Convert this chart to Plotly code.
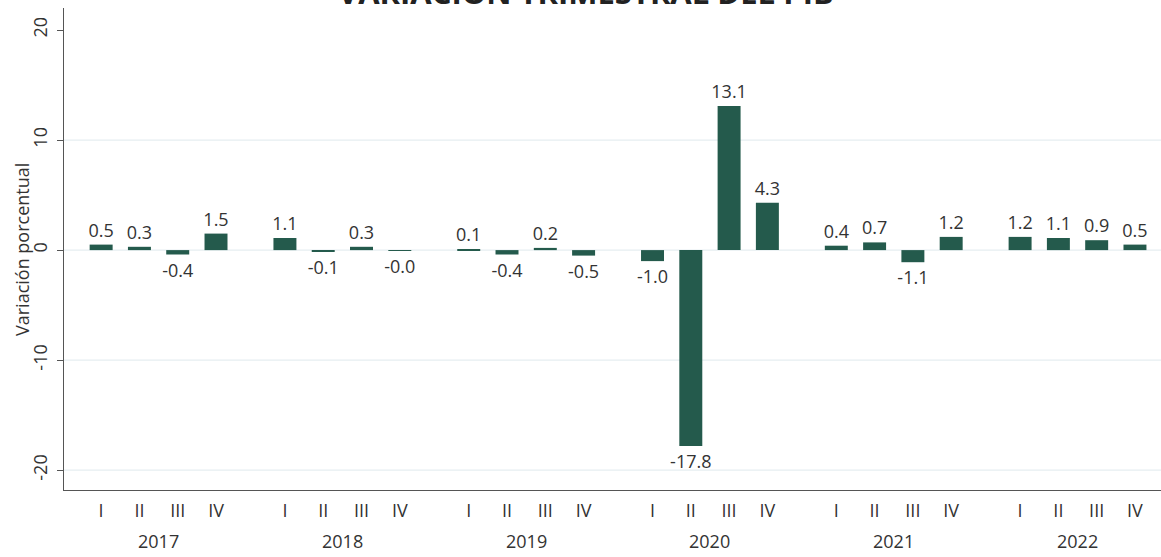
import plotly.graph_objects as go

years = ["2017", "2018", "2019", "2020", "2021", "2022"]
quarters = ["I", "II", "III", "IV"]
values = [
    0.5, 0.3, -0.4, 1.5,      # 2017
    1.1, -0.1, 0.3, -0.04,    # 2018
    0.1, -0.4, 0.2, -0.5,     # 2019
    -1.0, -17.8, 13.1, 4.3,   # 2020
    0.4, 0.7, -1.1, 1.2,      # 2021
    1.2, 1.1, 0.9, 0.5,       # 2022
]
y_ticks = [-20, -10, 0, 10, 20]
grid_values = [-20, -10, 0, 10]
title_text = "VARIACIÓN TRIMESTRAL DEL PIB"
y_title = "Variación porcentual"

GROUP_STEP = 4.8
FONT = "Open Sans"
FS = 18
BAR_COLOR = "#245a4c"
TEXT_COLOR = "#333333"
GRID_COLOR = "#e6eef1"

xs, qlabels = [], []
for yi, yr in enumerate(years):
    for qi, q in enumerate(quarters):
        xs.append(yi * GROUP_STEP + qi)
        qlabels.append(q)
labels = [f"{v:.1f}" for v in values]

fig = go.Figure()
for g in grid_values:
    fig.add_hline(y=g, line=dict(color=GRID_COLOR, width=1.2), layer="below")

fig.add_trace(go.Bar(
    x=xs, y=values, text=labels, textposition="outside",
    constraintext="none", cliponaxis=False,
    textfont=dict(family=FONT, size=FS, color=TEXT_COLOR),
    marker=dict(color=BAR_COLOR, line=dict(width=0)),
    width=0.6, hoverinfo="x+y",
))

x0 = -0.97
x1 = (len(years) - 1) * GROUP_STEP + 3 + 0.68
fig.update_layout(
    width=1161, height=557,
    margin=dict(l=64, r=0, t=8, b=67, autoexpand=False),
    plot_bgcolor="white", paper_bgcolor="white",
    showlegend=False,
    font=dict(family=FONT, size=FS, color=TEXT_COLOR),
    xaxis=dict(
        range=[x0, x1], tickmode="array", tickvals=xs, ticktext=qlabels,
        showgrid=False, zeroline=False, showline=True, linecolor="#555555",
        linewidth=1.3, ticks="", tickfont=dict(size=FS, color=TEXT_COLOR),
        automargin=False, ticklabelstandoff=4,
    ),
    yaxis=dict(
        range=[-21.8, 22.0], tickvals=y_ticks,
        ticktext=[str(t) for t in y_ticks], tickangle=-90,
        showgrid=False, zeroline=False,
        showline=True, linecolor="#555555", linewidth=1.3,
        ticks="outside", ticklen=6, tickcolor="#555555",
        tickfont=dict(size=FS, color=TEXT_COLOR), automargin=False,
        ticklabelstandoff=3,
    ),
)

fig.add_annotation(
    x=-0.0383, y=0.5, xref="paper", yref="paper", text=y_title,
    textangle=-90, showarrow=False, xanchor="center", yanchor="middle",
    font=dict(family=FONT, size=FS, color=TEXT_COLOR),
)

for yi, yr in enumerate(years):
    fig.add_annotation(
        x=yi * GROUP_STEP + 1.5, y=-0.106, xref="x", yref="paper",
        text=yr, showarrow=False, yanchor="middle",
        font=dict(family=FONT, size=FS, color=TEXT_COLOR),
    )

fig.add_annotation(
    x=0.476, y=1.034, xref="paper", yref="paper", text=f"<b>{title_text}</b>",
    showarrow=False, yanchor="middle",
    font=dict(family=FONT, size=31, color="#222222"),
)

fig.write_html(
    "out.html",
    config={"displayModeBar": False},
    post_script="document.body.style.margin='0';document.body.style.overflow='hidden';",
)
